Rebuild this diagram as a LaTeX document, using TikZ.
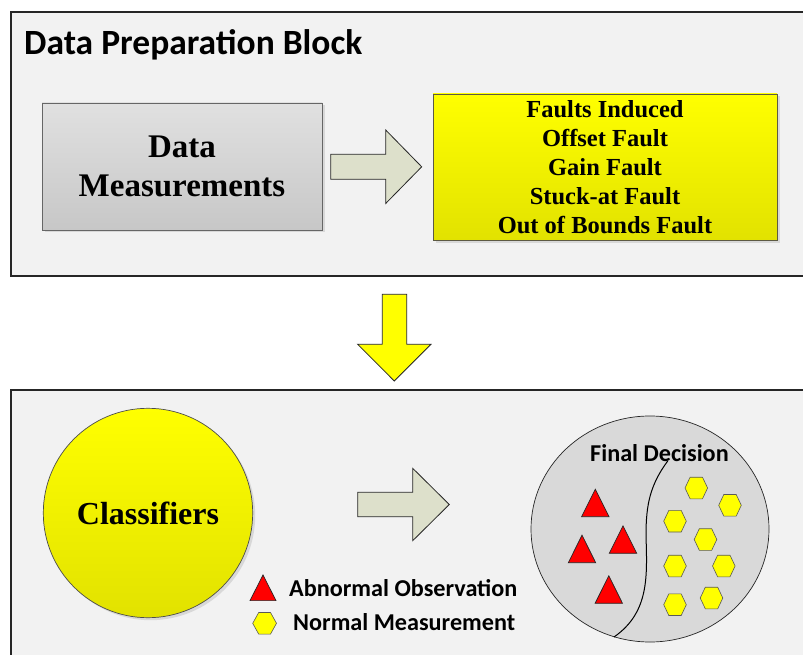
\documentclass[tikz,border=0pt]{standalone}
\usepackage{fontspec}
\setmainfont{Liberation Serif}
\newfontfamily\calib{Carlito}
\usetikzlibrary{shapes.geometric,shadows,positioning,calc}
\definecolor{panelgray}{HTML}{F2F2F2}
\definecolor{decgray}{HTML}{D9D9D9}
\definecolor{arrowgreen}{HTML}{DDE0CB}
\definecolor{fyellow}{HTML}{FFFF00}
\definecolor{dyellow}{HTML}{E2E200}

\begin{document}
\begin{tikzpicture}[x=1pt,y=-1pt,
  panel/.style={draw=black!85,line width=1.2pt,fill=panelgray},
  blk/.style={draw=black!60,line width=0.7pt,inner sep=0pt,align=center,
              drop shadow={shadow xshift=2.5pt,shadow yshift=-2.5pt,
                           fill=black!25,opacity=.5}},
  fatarrow/.style={draw=black!85,line width=0.8pt,fill=arrowgreen,line join=miter},
  lbl/.style={font=\calib\bfseries\fontsize{24.2}{28}\selectfont,inner sep=0pt,anchor=base west},
  tri/.style={draw=black!85,line width=0.7pt,fill=red},
  hexa/.style={draw=black!65,line width=0.6pt,fill=fyellow}
]
\clip (0,0) rectangle (803,655);
\fill[white] (0,0) rectangle (803,655);

% the two panels
\draw[panel] (11,12) rectangle (820,276);
\draw[panel] (11,390) rectangle (820,670);

\node[inner sep=0pt,anchor=base west,font=\calib\bfseries\fontsize{35.5}{40}\selectfont]
  (title) at (24,55) {Data Preparation Block};

% upper blocks
\node[blk,minimum width=280,minimum height=127,top color=black!12,bottom color=black!22,
      font=\bfseries\fontsize{33}{39.3}\selectfont]
  (meas) at (182,166.5) {Data\\Measurements};
\node[blk,draw=black!55!yellow!60!black,minimum width=344,minimum height=146,
      top color=fyellow,bottom color=dyellow,
      font=\bfseries\fontsize{24.5}{29}\selectfont]
  (faults) at (605,167) {Faults Induced\\Offset Fault\\Gain Fault\\Stuck-at Fault\\Out of Bounds Fault};

% block arrows
\draw[fatarrow] (330.7,154.3) -- (385.7,154.3) -- (385.7,130) -- (421.7,166.8)
  -- (385.7,203.5) -- (385.7,179.3) -- (330.7,179.3) -- cycle;
\draw[fatarrow,fill=fyellow] (382.3,294.3) -- (406.7,294.3) -- (406.7,344.3) -- (431,344.3)
  -- (394.3,381) -- (357.7,344.3) -- (382.3,344.3) -- cycle;
\draw[fatarrow] (357.7,492.3) -- (412.7,492.3) -- (412.7,468.3) -- (449.3,504.5)
  -- (412.7,540.7) -- (412.7,516.7) -- (357.7,516.7) -- cycle;

% classifiers
\node[blk,circle,draw=black!70,minimum size=209.4,top color=fyellow,bottom color=dyellow,
      font=\bfseries\fontsize{32}{38}\selectfont]
  (clf) at (148,513) {Classifiers};

% legend
\draw[tri] (250,600.6) -- (276,600.6) -- (263,575) -- cycle;
\draw[hexa] (252.7,623.3) -- (258.7,612.5) -- (270.5,612.5) -- (276.5,623.3)
  -- (270.5,634.1) -- (258.7,634.1) -- cycle;
\node[lbl] (abn) at (289,596) {Abnormal Observation};
\node[lbl] (nrm) at (293,630.5) {Normal Measurement};

% final decision
\node[ellipse,draw=black!85,line width=0.7pt,fill=decgray,minimum width=238,
      minimum height=226,inner sep=0pt] (dec) at (650,529) {};
\draw[black,line width=1pt] (667.7,461) .. controls (650,485) and (646,505) .. (646,535)
  .. controls (647,575) and (650,612) .. (614,637);
\node[lbl,font=\calib\bfseries\fontsize{24.2}{28}\selectfont] (dectxt) at (590,461) {Final Decision};

\foreach \x/\y in {595.3/516.7,582/562.7,623/553.3,608.8/603.3}
  \draw[tri] (\x-13.7,\y) -- (\x+13.7,\y) -- (\x,\y-27.5) -- cycle;
\foreach \x/\y in {696.3/488,730/505.3,675/521.2,705.5/539.5,
                   675/566,723.8/566,675/604.7,711.5/598}
  \draw[hexa] (\x-11.3,\y) -- (\x-6.2,\y-10.8) -- (\x+6.2,\y-10.8) -- (\x+11.3,\y)
    -- (\x+6.2,\y+10.8) -- (\x-6.2,\y+10.8) -- cycle;
\end{tikzpicture}
\end{document}
